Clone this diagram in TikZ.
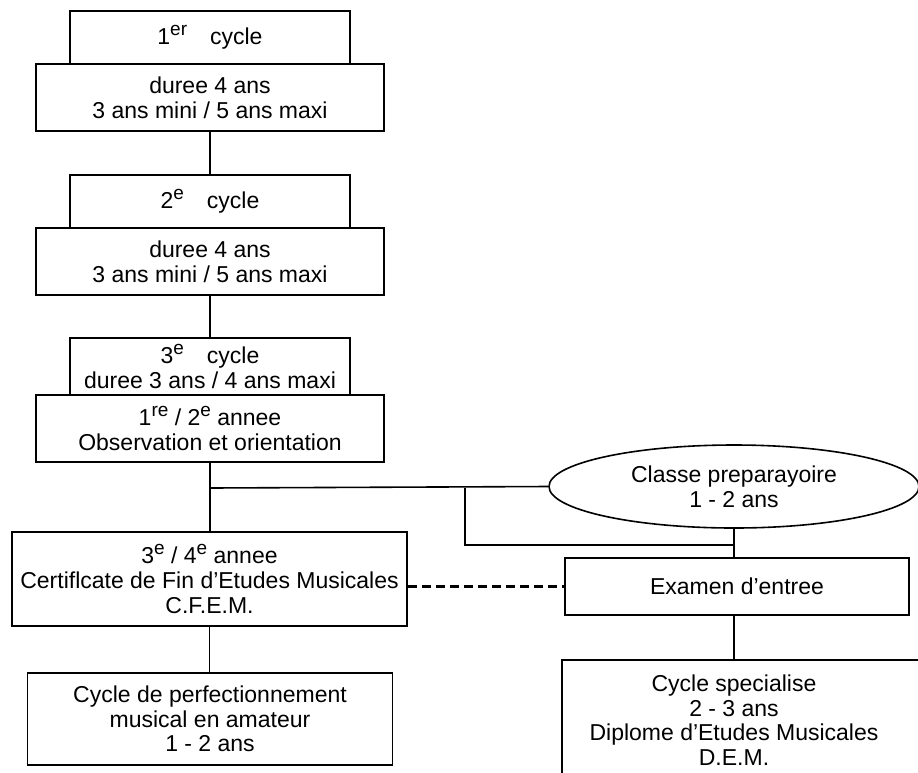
\documentclass[tikz,border=0pt]{standalone}
\usepackage{fontspec}
\setmainfont{Liberation Sans}
\usepackage{tikz}
\usetikzlibrary{shapes.geometric, positioning, calc}
\newcommand\hi[1]{\raisebox{0.75ex}{\fontsize{9.5}{9.5}\selectfont #1}}

\begin{document}
\begin{tikzpicture}[
  x=0.5pt, y=-0.5pt,
  box/.style={draw, rectangle, line width=0.8pt, align=center, inner sep=0pt, font=\fontsize{11.5}{12.3}\selectfont},
  oval/.style={draw, ellipse, line width=0.8pt, align=center, inner sep=0pt, font=\fontsize{11.5}{12.3}\selectfont},
  link/.style={line width=0.8pt},
  dlink/.style={line width=1.6pt, dash pattern=on 4.5pt off 2.5pt}
]
  \clip (0,0) rectangle (918,773);

  % Cycles 1 et 2
  \node[box, minimum width=140pt, minimum height=26.5pt] (cyc1) at (210,37.5) {1\hi{er}\quad cycle};
  \node[box, minimum width=174pt, minimum height=33.5pt] (dur1) at (210,97.5) {duree 4 ans\\3 ans mini / 5 ans maxi};
  \node[box, minimum width=140pt, minimum height=26.5pt] (cyc2) at (210,201.5) {2\hi{e}\quad cycle};
  \node[box, minimum width=174pt, minimum height=33.5pt] (dur2) at (210,261.5) {duree 4 ans\\3 ans mini / 5 ans maxi};

  % Cycle 3
  \node[box, minimum width=140pt, minimum height=28.5pt] (cyc3) at (210,366.5) {3\hi{e}\quad cycle\\duree 3 ans / 4 ans maxi};
  \node[box, minimum width=174pt, minimum height=33.5pt] (obs) at (210,428.5) {1\hi{re} / 2\hi{e} annee\\Observation et orientation};
  \node[box, minimum width=197.5pt, minimum height=47pt] (cfem) at (209.5,579) {3\hi{e} / 4\hi{e} annee\\Certiflcate de Fin d’Etudes Musicales\\C.F.E.M.};
  \node[box, minimum width=182.5pt, minimum height=46pt] (perf) at (210,719) {Cycle de perfectionnement\\musical en amateur\\1 - 2 ans};

  % Filiere specialisee
  \node[oval, minimum width=185pt, minimum height=41.5pt] (prep) at (734,486.5) {Classe preparayoire\\1 - 2 ans};
  \node[box, minimum width=172pt, minimum height=28.5pt] (exam) at (737,586.5) {Examen d’entree};
  \node[align=center, inner sep=0pt, font=\fontsize{11.5}{12.3}\selectfont] (spec) at (734,720) {Cycle specialise\\2 - 3 ans\\Diplome d’Etudes Musicales\\D.E.M.};
  \coordinate (spectop) at (734,660);
  \draw[link] (562,800) |- (950,660);

  % Liaisons
  \coordinate (tee) at (465,488);
  \coordinate (knee) at (734,545);
  \draw[link] (dur1.south) -- (cyc2.north);
  \draw[link] (dur2.south) -- (cyc3.north);
  \draw[link] (obs.south) -- (obs.south |- cfem.north);
  \draw[link] (obs.south |- tee) -- (prep.west);
  \draw[link] (tee) |- (knee);
  \draw[link] (prep.south) -- (prep.south |- exam.north);
  \draw[link] (cfem.south) -- (cfem.south |- perf.north);
  \draw[link] (exam.south -| spectop) -- (spectop);
  \draw[dlink] (exam.west -| cfem.east) -- (exam.west);
\end{tikzpicture}
\end{document}
